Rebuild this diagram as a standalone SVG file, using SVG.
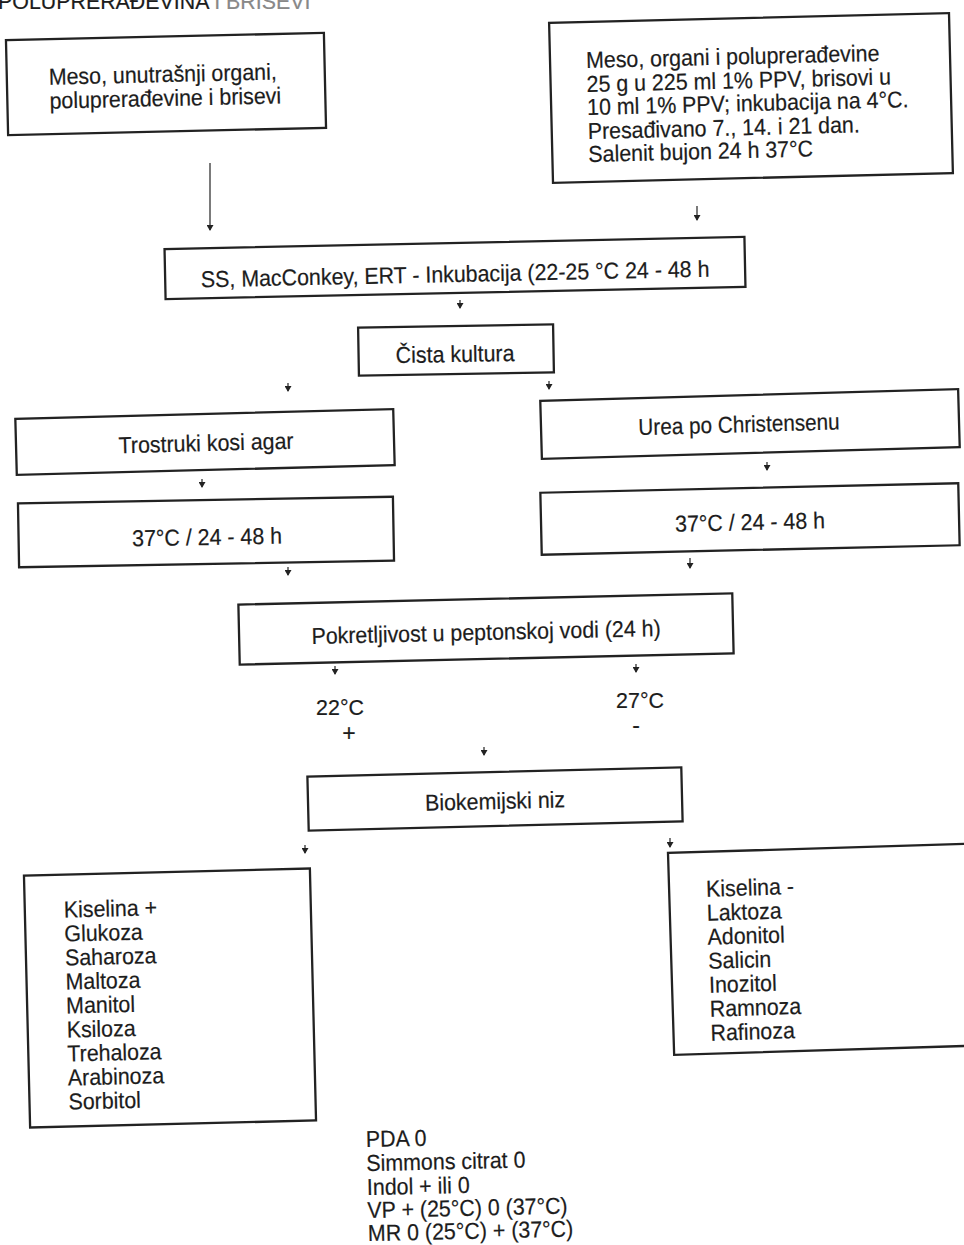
<svg xmlns="http://www.w3.org/2000/svg" width="964" height="1245" viewBox="0 0 964 1245">
<defs>
<style>
.box{fill:none;stroke:#222;stroke-width:2.3}
text{font-family:"Liberation Sans",Arial,Helvetica,sans-serif;font-size:23px;fill:#1c1c1c;stroke:#1c1c1c;stroke-width:0.2}
.c{text-anchor:middle}
.con line{stroke:#222;stroke-width:1.2}
</style>
<marker id="ah" markerUnits="userSpaceOnUse" markerWidth="6" markerHeight="7" refX="5" refY="3.5" orient="auto">
<path d="M0,0 L6,3.5 L0,7 z" fill="#222"/>
</marker>
</defs>
<rect width="964" height="1245" fill="#fff"/>
<text x="-2" y="9" transform="matrix(0.93 0 0 1 -0.14 0)">POLUPRERAĐEVINA <tspan fill="#888" stroke="#888">I BRISEVI</tspan></text>

<g id="n1" transform="rotate(-1.3 166 84)">
<rect class="box" x="7" y="36.5" width="318" height="95"/>
<text class="c" x="163" y="82" transform="matrix(0.93 0 0 1 11.41 0)">Meso, unutrašnji organi,</text>
<text class="c" x="165" y="106" transform="matrix(0.93 0 0 1 11.55 0)">poluprerađevine i brisevi</text>
</g>

<g id="n2" transform="rotate(-1.4 751 98)">
<rect class="box" x="551" y="18" width="400" height="160"/>
<g transform="matrix(0.93 0 0 1 41.09 0)">
<text x="587" y="64">Meso, organi i poluprerađevine</text>
<text x="587" y="88">25 g u 225 ml 1% PPV, brisovi u</text>
<text x="587" y="111">10 ml 1% PPV; inkubacija na 4°C.</text>
<text x="587" y="135">Presađivano 7., 14. i 21 dan.</text>
<text x="587" y="158">Salenit bujon 24 h 37°C</text>
</g>
</g>

<g id="n3" transform="rotate(-1.2 455 268)">
<rect class="box" x="165" y="243" width="580" height="50"/>
<text class="c" x="455" y="282" transform="matrix(0.93 0 0 1 31.85 0)">SS, MacConkey, ERT - Inkubacija (22-25 °C 24 - 48 h</text>
</g>

<g id="n4" transform="rotate(-1 456 350)">
<rect class="box" x="358.5" y="326" width="195" height="48"/>
<text class="c" x="455" y="362" transform="matrix(0.93 0 0 1 31.85 0)">Čista kultura</text>
</g>

<g id="n5" transform="rotate(-1.5 205 442)">
<rect class="box" x="16" y="414" width="378" height="56"/>
<text class="c" x="206" y="451" transform="matrix(0.93 0 0 1 14.42 0)">Trostruki kosi agar</text>
</g>

<g id="n6" transform="rotate(-1.6 750 424)">
<rect class="box" x="541" y="395" width="418" height="58"/>
<text class="c" x="739" y="432" transform="matrix(0.9 0 0 1 73.9 0)">Urea po Christensenu</text>
</g>

<g id="n7" transform="rotate(-1 206 532)">
<rect class="box" x="18.5" y="500" width="375" height="64"/>
<text class="c" x="207" y="545" transform="matrix(0.93 0 0 1 14.49 0)">37°C / 24 - 48 h</text>
</g>

<g id="n8" transform="rotate(-1.3 750 519)">
<rect class="box" x="541" y="488" width="418" height="62"/>
<text class="c" x="750" y="530" transform="matrix(0.93 0 0 1 52.5 0)">37°C / 24 - 48 h</text>
</g>

<g id="n9" transform="rotate(-1.3 486 629)">
<rect class="box" x="239" y="599" width="494" height="60"/>
<text class="c" x="486" y="640" transform="matrix(0.93 0 0 1 34.02 0)">Pokretljivost u peptonskoj vodi (24 h)</text>
</g>

<g id="t22">
<text class="c" x="340" y="715" transform="matrix(0.93 0 0 1 23.8 0)">22°C</text>
<text class="c" x="349" y="741">+</text>
</g>
<g id="t27">
<text class="c" x="640" y="708" transform="matrix(0.93 0 0 1 44.8 0)">27°C</text>
<text class="c" x="636" y="733">-</text>
</g>

<g id="n10" transform="rotate(-1.4 495 799)">
<rect class="box" x="308" y="772" width="374" height="54"/>
<text class="c" x="495" y="809" transform="matrix(0.93 0 0 1 34.65 0)">Biokemijski niz</text>
</g>

<g id="n11" transform="rotate(-1.4 170 998)">
<rect class="box" x="27" y="872" width="286" height="252"/>
<g transform="matrix(0.93 0 0 1 4.62 0)">
<text x="66" y="915">Kiselina +</text>
<text x="66" y="939">Glukoza</text>
<text x="66" y="963">Saharoza</text>
<text x="66" y="987">Maltoza</text>
<text x="66" y="1011">Manitol</text>
<text x="66" y="1035">Ksiloza</text>
<text x="66" y="1059">Trehaloza</text>
<text x="66" y="1083">Arabinoza</text>
<text x="66" y="1107">Sorbitol</text>
</g>
</g>

<g id="n12" transform="rotate(-1.75 831 949)">
<rect class="box" x="671" y="848" width="320" height="202"/>
<g transform="matrix(0.93 0 0 1 49.56 0)">
<text x="708" y="893">Kiselina -</text>
<text x="708" y="917">Laktoza</text>
<text x="708" y="941">Adonitol</text>
<text x="708" y="965">Salicin</text>
<text x="708" y="989">Inozitol</text>
<text x="708" y="1013">Ramnoza</text>
<text x="708" y="1037">Rafinoza</text>
</g>
</g>

<g id="n13" transform="rotate(-1.3 460 1190)">
<g transform="matrix(0.93 0 0 1 25.69 0)">
<text x="367" y="1145">PDA 0</text>
<text x="367" y="1169">Simmons citrat 0</text>
<text x="367" y="1193">Indol + ili 0</text>
<text x="367" y="1216">VP + (25°C) 0 (37°C)</text>
<text x="367" y="1239">MR 0 (25°C) + (37°C)</text>
</g>
</g>

<g id="connectors" class="con">
<line x1="210" y1="163" x2="210" y2="230" marker-end="url(#ah)"/>
<line x1="697" y1="206" x2="697" y2="220" marker-end="url(#ah)"/>
<line x1="460" y1="300" x2="460" y2="308" marker-end="url(#ah)"/>
<line x1="288" y1="383" x2="288" y2="391" marker-end="url(#ah)"/>
<line x1="549" y1="381" x2="549" y2="389" marker-end="url(#ah)"/>
<line x1="202" y1="479" x2="202" y2="487" marker-end="url(#ah)"/>
<line x1="767" y1="462" x2="767" y2="470" marker-end="url(#ah)"/>
<line x1="288" y1="567" x2="288" y2="575" marker-end="url(#ah)"/>
<line x1="690" y1="558" x2="690" y2="568" marker-end="url(#ah)"/>
<line x1="335" y1="666" x2="335" y2="674" marker-end="url(#ah)"/>
<line x1="636" y1="664" x2="636" y2="672" marker-end="url(#ah)"/>
<line x1="484" y1="747" x2="484" y2="755" marker-end="url(#ah)"/>
<line x1="305" y1="845" x2="305" y2="853" marker-end="url(#ah)"/>
<line x1="670" y1="838" x2="670" y2="847" marker-end="url(#ah)"/>
</g>
</svg>
